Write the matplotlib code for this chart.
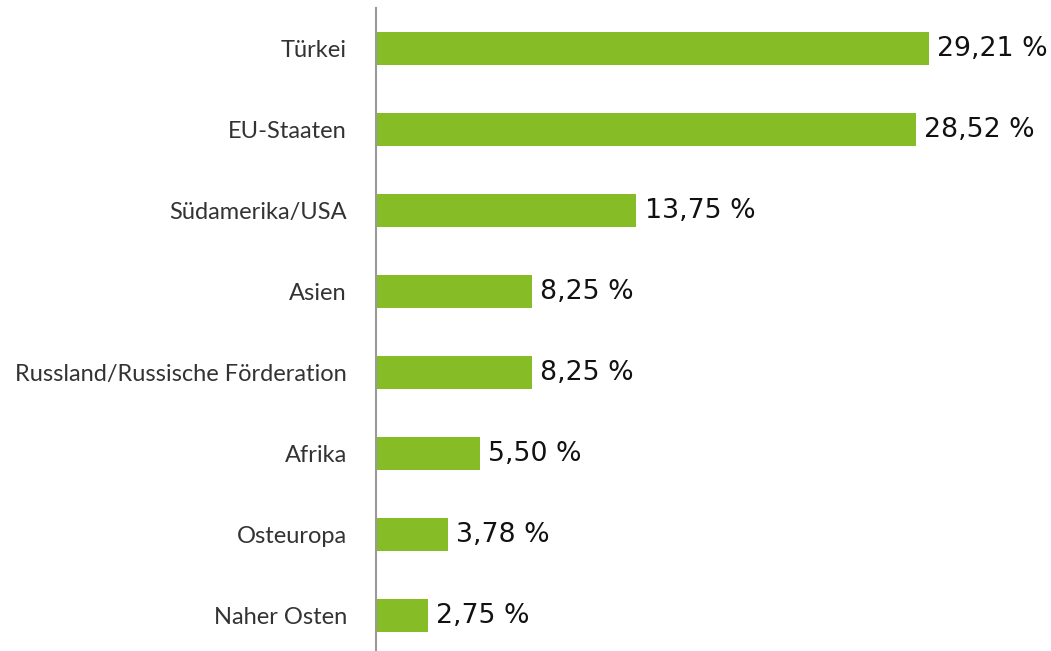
import matplotlib
matplotlib.use("Agg")
import matplotlib.pyplot as plt

regionen = ["Türkei", "EU-Staaten", "Südamerika/USA", "Asien",
            "Russland/Russische Förderation", "Afrika", "Osteuropa", "Naher Osten"]
anteile = [29.21, 28.52, 13.75, 8.25, 8.25, 5.50, 3.78, 2.75]
beschriftung = ["29,21 %", "28,52 %", "13,75 %", "8,25 %",
                "8,25 %", "5,50 %", "3,78 %", "2,75 %"]

fig = plt.figure(figsize=(10.51, 6.51), dpi=100)
ax = fig.add_axes([376 / 1051, 0, 1 - 376 / 1051, (651 - 8) / 651])

pos = list(range(len(regionen)))
ax.barh(pos, anteile, height=0.41, color="#86bc25")

for p, v, t in zip(pos, anteile, beschriftung):
    ax.annotate(t, (v, p), xytext=(6, 0), textcoords="offset points",
                va="center", ha="left", fontsize=19.3, family="DejaVu Sans",
                color="#111111")

ax.set_xlim(0, 35.66)
ax.set_ylim(7.438, -0.5)
ax.set_yticks(pos)
ax.set_yticklabels(regionen, fontsize=17, family="Lato", color="#333333")
ax.tick_params(axis="y", length=0, pad=21)
ax.set_xticks([])
for s in ["top", "right", "bottom"]:
    ax.spines[s].set_visible(False)
ax.spines["left"].set_color("#999999")
ax.spines["left"].set_linewidth(1.5)

fig.savefig("out.png", dpi=100)
